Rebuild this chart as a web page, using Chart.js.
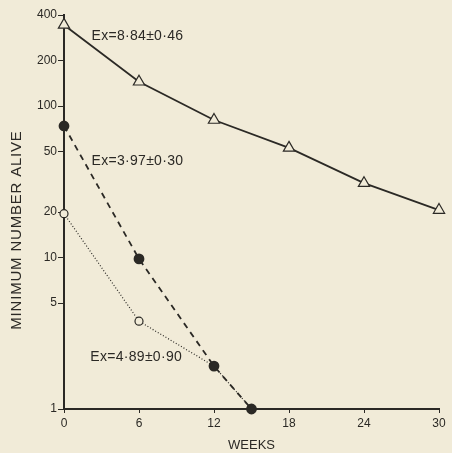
<!DOCTYPE html>
<html>
<head>
<meta charset="utf-8">
<script src="https://cdn.jsdelivr.net/npm/chart.js@4/dist/chart.umd.min.js"></script>
<style>
  html, body { margin: 0; padding: 0; background: #f1ebd8; }
  #wrap { width: 452px; height: 453px; }
</style>
</head>
<body>
<div id="wrap"><canvas id="grafico"></canvas></div>
<script>
// datos
const semanas = [0, 6, 12, 18, 24, 30];
const ticksY = [1, 5, 10, 20, 50, 100, 200, 400];

const triangulos = [
    { x: 0, y: 344 }, { x: 6, y: 145 }, { x: 12, y: 81 },
    { x: 18, y: 53 }, { x: 24, y: 31 }, { x: 30, y: 20.6 }
];
const circulosLlenos = [
    { x: 0, y: 74 }, { x: 6, y: 9.8 }, { x: 12, y: 1.92 }, { x: 15, y: 1 }
];
const circulosAbiertos = [
    { x: 0, y: 19.5 }, { x: 6, y: 3.8 }, { x: 12, y: 1.92 }, { x: 15, y: 1 }
];

const notas = [
    { texto: 'Ex=8·84±0·46', x: 2.2, y: 290 },
    { texto: 'Ex=3·97±0·30', x: 2.2, y: 43.5 },
    { texto: 'Ex=4·89±0·90', x: 2.1, y: 2.2 }
];

const tinta = '#2b2925';
const fondo = '#f1ebd8';

const pluginTextos = {
    id: 'textos',
    beforeDraw(chart) {
        const ctx = chart.ctx;
        ctx.save();
        ctx.fillStyle = fondo;
        ctx.fillRect(0, 0, chart.width, chart.height);
        ctx.restore();
    },
    afterDraw(chart) {
        const ctx = chart.ctx;
        const sx = chart.scales.x, sy = chart.scales.y;
        ctx.save();
        ctx.fillStyle = tinta;
        ctx.font = '14px "Liberation Sans", Arial, sans-serif';
        ctx.letterSpacing = '0.3px';
        ctx.textBaseline = 'middle';
        notas.forEach(n => {
            ctx.fillText(n.texto, sx.getPixelForValue(n.x), sy.getPixelForValue(n.y));
        });
        // titulo eje Y
        ctx.translate(17, 230);
        ctx.rotate(-Math.PI / 2);
        ctx.textAlign = 'center';
        ctx.font = '15px "Liberation Sans", Arial, sans-serif';
        ctx.letterSpacing = '0.8px';
        ctx.fillText('MINIMUM NUMBER ALIVE', 0, 0);
        ctx.restore();
    }
};

new Chart(document.getElementById('grafico'), {
    type: 'line',
    data: {
        datasets: [{
            data: triangulos,
            borderColor: tinta,
            borderWidth: 1.8,
            pointStyle: 'triangle',
            pointRadius: 6.5,
            pointBackgroundColor: fondo,
            pointBorderColor: tinta,
            pointBorderWidth: 1.2,
            clip: false
        }, {
            data: circulosAbiertos,
            borderColor: tinta,
            borderWidth: 1.2,
            borderDash: [1, 2],
            pointRadius: [4, 4, 0, 0],
            pointBackgroundColor: fondo,
            pointBorderColor: tinta,
            pointBorderWidth: 1.2,
            clip: false
        }, {
            data: circulosLlenos,
            borderColor: tinta,
            borderWidth: 1.8,
            borderDash: [6, 5],
            pointRadius: 4.5,
            pointBackgroundColor: tinta,
            pointBorderColor: tinta,
            clip: false
        }]
    },
    options: {
        responsive: true,
        maintainAspectRatio: false,
        animation: false,
        layout: { padding: { top: 15, right: 13, left: 0, bottom: 0 } },
        plugins: { legend: { display: false }, tooltip: { enabled: false } },
        scales: {
            x: {
                type: 'linear',
                min: 0,
                max: 30,
                afterBuildTicks: s => { s.ticks = semanas.map(v => ({ value: v })); },
                afterFit: s => { s.height = 44; },
                grid: { drawOnChartArea: false, drawTicks: true, tickLength: 4, color: tinta },
                border: { display: true, color: tinta, width: 2 },
                ticks: { color: tinta, padding: 3, font: { size: 12, family: 'Liberation Sans' } },
                title: {
                    display: true,
                    text: 'WEEKS',
                    color: tinta,
                    padding: { top: 1, bottom: 0 },
                    font: { size: 13, family: 'Liberation Sans' }
                }
            },
            y: {
                type: 'logarithmic',
                min: 1,
                max: 400,
                afterBuildTicks: s => { s.ticks = ticksY.map(v => ({ value: v })); },
                afterFit: s => { s.width = 64; },
                grid: { drawOnChartArea: false, drawTicks: true, tickLength: 6, color: tinta },
                border: { display: true, color: tinta, width: 2 },
                ticks: {
                    color: tinta,
                    padding: 1,
                    font: { size: 12, family: 'Liberation Sans' },
                    callback: v => String(v)
                }
            }
        }
    },
    plugins: [pluginTextos]
});
</script>
</body>
</html>
